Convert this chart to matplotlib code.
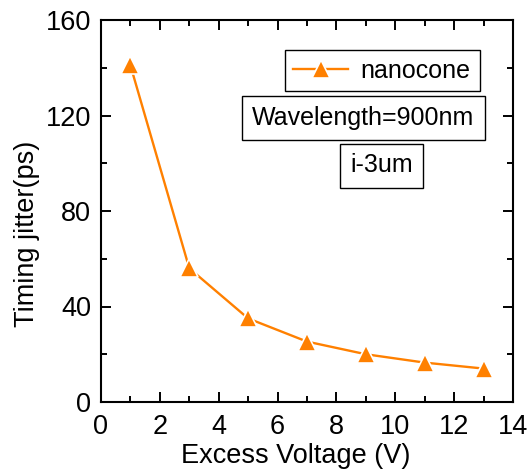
import matplotlib
matplotlib.use("Agg")
import matplotlib.pyplot as plt
from matplotlib.ticker import MultipleLocator

# data
voltage = [1, 3, 5, 7, 9, 11, 13]
jitter = [141, 56, 35, 25.3, 20, 16.5, 14]

orange = "#FF8000"

plt.rcParams["font.family"] = ["Liberation Sans", "DejaVu Sans"]
plt.rcParams["font.size"] = 18

W, H = 532, 472
fig = plt.figure(figsize=(W / 100, H / 100), dpi=100)
ax = fig.add_axes([101 / W, 1 - 402 / H, (513 - 101) / W, (402 - 20) / H])

ax.plot(voltage, jitter, color=orange, lw=1.7, marker="^", markersize=13,
        markerfacecolor=orange, markeredgecolor="white", markeredgewidth=1.2,
        label="nanocone")

ax.set_xlim(0, 14)
ax.set_ylim(0, 160)
ax.xaxis.set_major_locator(MultipleLocator(2))
ax.xaxis.set_minor_locator(MultipleLocator(1))
ax.yaxis.set_major_locator(MultipleLocator(40))
ax.yaxis.set_minor_locator(MultipleLocator(20))
ax.tick_params(which="both", direction="in", top=True, right=True, width=1.4)
ax.tick_params(which="major", length=7, pad=7, labelsize=19.5)
ax.tick_params(axis="x", which="major", pad=9)
ax.tick_params(which="minor", length=4)
for s in ax.spines.values():
    s.set_linewidth(1.5)

ax.set_xlabel("Excess Voltage (V)", fontsize=19.5, labelpad=2, x=0.472)
ax.set_ylabel("Timing jitter(ps)", fontsize=19.5, labelpad=4, y=0.441)

leg = ax.legend(loc="center", bbox_to_anchor=(382 / W, 1 - 70.5 / H),
                bbox_transform=fig.transFigure, fancybox=False,
                edgecolor="black", framealpha=1, handlelength=2.2,
                handletextpad=0.5, borderpad=0.35, fontsize=18)
leg.get_frame().set_linewidth(1.0)

box = dict(boxstyle="square,pad=0.4", facecolor="white", edgecolor="black", lw=1.0)
fig.text(363.5 / W, 1 - 117.5 / H, "Wavelength=900nm", ha="center", va="center",
         fontsize=18, bbox=box)
fig.text(381.5 / W, 1 - 165.5 / H, "i-3um", ha="center", va="center",
         fontsize=18, bbox=box)

fig.savefig("out.png", dpi=100)
